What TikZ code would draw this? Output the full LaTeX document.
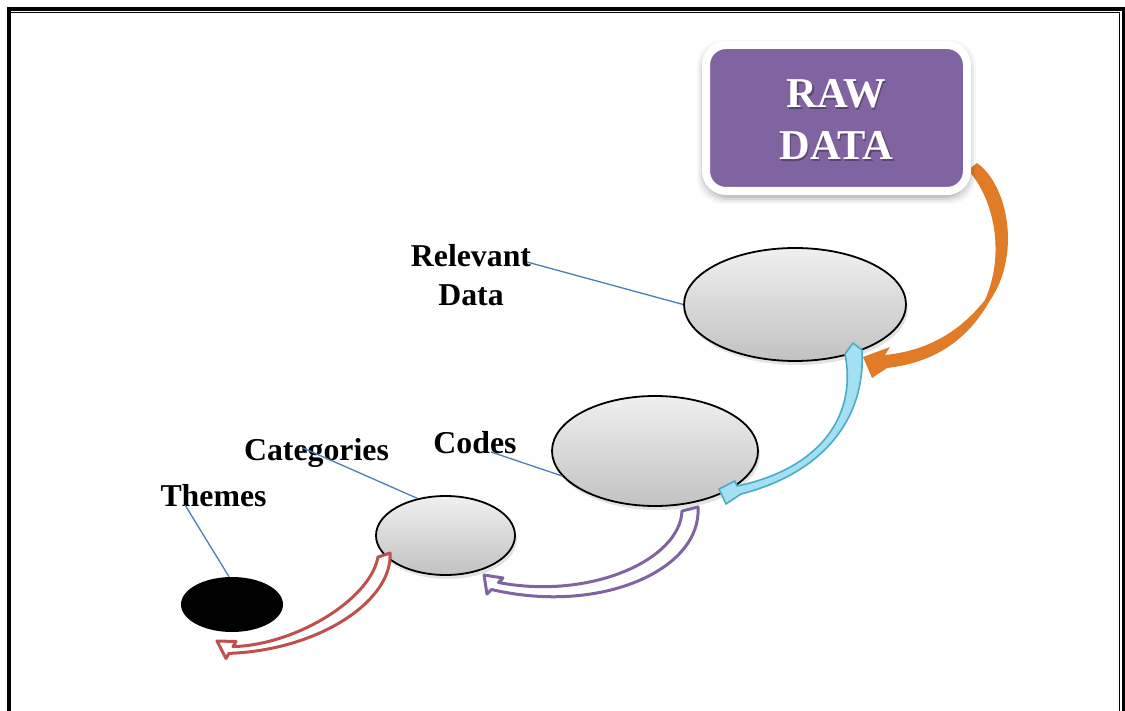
\documentclass[tikz,border=0pt]{standalone}
\usepackage{fontspec}
\setmainfont{Liberation Serif}
\usetikzlibrary{shapes.geometric,shadows}

\definecolor{rawpurple}{HTML}{8064A2}
\definecolor{arrorange}{HTML}{E07B27}
\definecolor{arrblue}{HTML}{4BACC6}
\definecolor{arrbluefill}{HTML}{A3E0F3}
\definecolor{arrred}{HTML}{C0504D}
\definecolor{leaderblue}{HTML}{4A7EBB}

\begin{document}
\begin{tikzpicture}[x=1pt,y=-1pt,
  bubble/.style={ellipse, draw=black, line width=1.8pt, inner sep=0pt,
    top color=gray!12, bottom color=gray!48,
    drop shadow={shadow xshift=2pt, shadow yshift=-4pt, opacity=0.22}},
  darkbubble/.style={ellipse, fill=black, inner sep=0pt},
  rawbox/.style={rectangle, draw=white, line width=8pt, fill=rawpurple,
    rounded corners=20pt, minimum width=261pt, minimum height=146pt},
  rawtext/.style={align=center, inner sep=0pt, text=white,
    font=\fontsize{42.5}{52}\selectfont\bfseries},
  lbl/.style={inner sep=0pt, font=\fontsize{31.8}{39}\selectfont\bfseries},
  leader/.style={draw=leaderblue, line width=1.3pt},
  ribbon/.style={line width=3pt, line join=round, fill=white},
]
\useasboundingbox (0,0) rectangle (1125,711);

% page border: thick outer rule, thin inner rule
\draw[line width=4pt] (9,720) -- (9,9.5) -- (1124,9.5) -- (1124,720);
\draw[line width=1.3pt] (11,12.7) -- (1119.7,12.7) -- (1119.7,720);

% stages
\node[bubble, minimum width=222pt, minimum height=113pt] (rd) at (795,304.5) {};
\node[bubble, minimum width=206pt, minimum height=110pt] (codes) at (655,451) {};
\node[bubble, minimum width=139pt, minimum height=79pt] (cat) at (445.5,535.5) {};
\node[darkbubble, minimum width=102pt, minimum height=55pt] (themes) at (232,604.5) {};

% orange ribbon arrow from the raw data box
\fill[arrorange] (968,170) -- (977,163)
  .. controls (1008,185) and (1022,255) .. (989,302)
  .. controls (970,335) and (940,362) .. (887,368)
  -- (872,378) -- (863,357) -- (890,347) -- (885,355)
  .. controls (935,350) and (965,325) .. (985,300)
  .. controls (1005,255) and (995,200) .. (968,170) -- cycle;

% soft shadow under the raw data box
\foreach \e/\o in {3/0.10, 5/0.07, 7/0.05, 9/0.03}
  \fill[black, opacity=\o, rounded corners=26pt]
    (706-\e,45-\e+4) rectangle (967+\e,191+\e+4);

% raw data box
\node[rawbox] (raw) at (836.5,118) {};
\node[rawtext, text=black, opacity=0.3] (rawshade) at (837.7,121.2) {RAW\\DATA};
\node[rawtext] (rawlabel) at (836.5,120) {RAW\\DATA};

% light blue ribbon arrow
\filldraw[draw=arrblue, fill=arrbluefill, line width=1.6pt, line join=round]
  (845,354) -- (853,343) -- (862,350)
  .. controls (866,425) and (816,475) .. (741,494)
  -- (726,504) -- (719,489) -- (735,481) -- (737,486)
  .. controls (815,470) and (858,420) .. (845,354) -- cycle;

% purple ribbon arrow
\filldraw[ribbon, draw=rawpurple]
  (682,511) -- (698,507)
  .. controls (702,570) and (600,615) .. (491.5,589.5)
  -- (487,594) -- (484,575) -- (503,578) -- (498.5,582.5)
  .. controls (590,600) and (680,560) .. (682,511) -- cycle;

% red ribbon arrow
\filldraw[ribbon, draw=arrred]
  (378,557) -- (390,553)
  .. controls (393,600) and (320,650) .. (229,653.4)
  -- (226,658.5) -- (217,641) -- (236,641.5) -- (233,646.6)
  .. controls (295,645) and (370,600) .. (378,557) -- cycle;

% labels
\node[lbl, align=center] (rdlabel) at (471,274.8) {Relevant\\Data};
\node[lbl, anchor=base] (codeslabel) at (475,453) {Codes};
\node[lbl, anchor=base] (catlabel) at (316.5,460) {Categories};
\node[lbl, anchor=base] (themeslabel) at (213.5,506) {Themes};

% leader lines
\coordinate (rdfoot) at (527,262);
\coordinate (codesfoot) at (491,452);
\coordinate (catfoot) at (303,448);
\coordinate (themesfoot) at (185,505);
\draw[leader] (rdfoot) -- (rd.west);
\draw[leader] (codesfoot) -- (codes.195);
\draw[leader] (catfoot) -- (cat.127);
\draw[leader] (themesfoot) -- (themes.96);
\end{tikzpicture}
\end{document}
